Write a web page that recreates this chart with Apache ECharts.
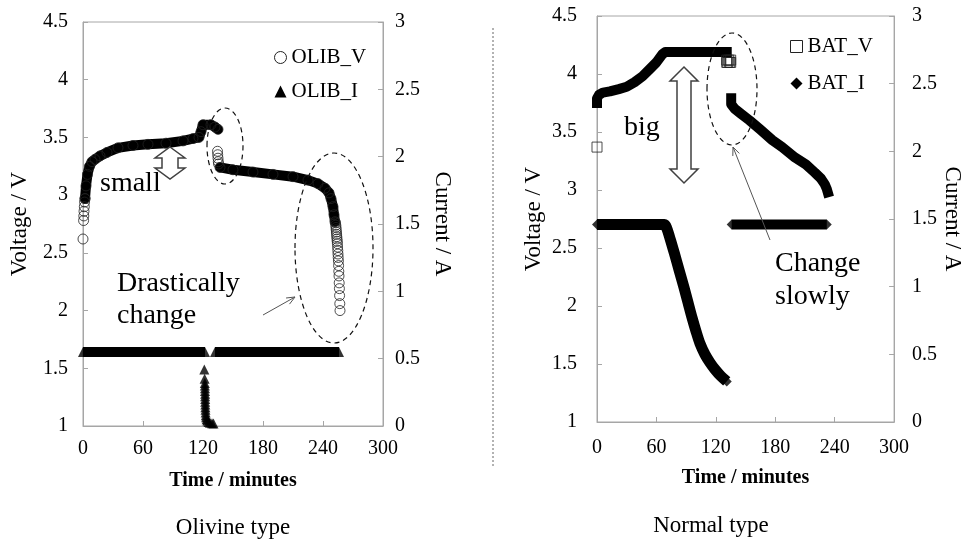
<!DOCTYPE html>
<html>
<head>
<meta charset="utf-8">
<script src="https://cdn.jsdelivr.net/npm/echarts/dist/echarts.min.js"></script>
<style>
  html, body { margin: 0; padding: 0; background: #fff; }
  #chart { width: 965px; height: 544px; }
</style>
</head>
<body>
<div id="chart"></div>
<script>
// ---- axis ranges (min, max, step) ----
const timeAxis = [0, 300, 60];      // minutes
const voltAxis = [1, 4.5, 0.5];     // V
const currAxis = [0, 3, 0.5];       // A

// ---- Olivine cell (OLIB) ----
// loose voltage points at the very start of charge
const olibVStart = [[0, 2.62], [0.6, 2.78], [0.8, 2.82], [1, 2.86], [1.3, 2.9], [1.6, 2.94], [2, 2.97]];
// dense voltage trace during charge (CC then CV)
const olibVCharge = [[2, 2.97], [3, 3.08], [4.5, 3.18], [6.5, 3.25], [9, 3.29], [12, 3.31], [17, 3.34],
  [24, 3.37], [35, 3.41], [50, 3.43], [65, 3.44], [83, 3.45], [100, 3.47], [110, 3.49], [116, 3.5],
  [118, 3.55], [120, 3.61], [128, 3.61], [132, 3.59], [135, 3.57]];
// loose voltage points right after the charge ends
const olibVRest = [[134.5, 3.38], [134.7, 3.35], [135, 3.32], [135.3, 3.29], [135.6, 3.27]];
// dense voltage trace during discharge
const olibVDischarge = [[137, 3.24], [150, 3.22], [170, 3.2], [190, 3.18], [210, 3.16], [225, 3.13],
  [235, 3.1], [242, 3.06], [246, 3.02], [248, 2.97], [250, 2.9], [251, 2.83], [252, 2.77]];
// loose voltage points at the end of discharge
const olibVDrop = [[252.5, 2.76], [252.8, 2.74], [253, 2.72], [253.2, 2.7], [253.4, 2.68], [253.6, 2.66],
  [253.8, 2.64], [254, 2.62], [254.2, 2.6], [254.4, 2.58], [254.6, 2.55], [254.8, 2.52], [255, 2.49],
  [255.2, 2.46], [255.4, 2.43], [255.6, 2.39], [255.8, 2.34], [256, 2.3], [256.2, 2.24], [256.4, 2.19],
  [256.6, 2.13], [256.8, 2.06], [257, 2.0]];
// current: constant charge, CV tail, constant discharge
const olibICharge = [[0, 0.55], [122, 0.55]];
const olibITail = [[121.3, 0.42], [121.6, 0.35], [121.8, 0.32], [121.9, 0.3], [122, 0.28], [122, 0.26],
  [122.1, 0.24], [122.1, 0.22], [122.2, 0.2], [122.2, 0.18], [122.3, 0.16], [122.4, 0.14], [122.5, 0.12],
  [122.6, 0.1], [122.8, 0.08], [123.1, 0.065], [123.6, 0.05], [124.4, 0.04], [125.5, 0.03], [127, 0.025],
  [129, 0.02], [130.5, 0.018]];
const olibIDischarge = [[132, 0.55], [256, 0.55]];

// ---- Normal cell (BAT) ----
const batVStart = [[0, 3.37]];
const batVCharge = [[0, 3.75], [0, 3.79], [2, 3.82], [6, 3.84], [13, 3.85], [22, 3.87], [30, 3.89],
  [38, 3.93], [46, 3.98], [53, 4.04], [60, 4.1], [66, 4.17], [69, 4.19], [131, 4.19]];
const batVRest = [[131, 4.1], [131, 4.12], [132, 4.1], [133, 4.12], [134, 4.1], [135, 4.12], [135, 4.1]];
const batVDischarge = [[135.5, 3.79], [135.5, 3.74], [139, 3.7], [145, 3.66], [154, 3.6], [165, 3.52],
  [177, 3.43], [187, 3.37], [200, 3.28], [211, 3.22], [220, 3.15], [226, 3.1], [230, 3.05], [232, 3.01],
  [233, 2.98]];
const batICharge = [[0, 1.46], [68, 1.46], [70.5, 1.43], [74, 1.35], [78, 1.25], [83, 1.12], [88, 0.99],
  [92, 0.88], [96, 0.77], [100, 0.67], [104, 0.58], [109, 0.5], [114, 0.44], [119, 0.39], [125, 0.34],
  [131, 0.3]];
const batIEnds = [[0, 1.46], [68, 1.46], [131, 0.3], [136, 1.46], [232, 1.46]];
const batIDischarge = [[136, 1.46], [232, 1.46]];

// ---- styling ----
const FONT = '"Liberation Serif", "Times New Roman", serif';
const AXIS_GRAY = '#a6a6a6';
const INK = '#000';

function xAxisFor(gridIndex, labelMargin, nameGap) {
  return {
    gridIndex, type: 'value', min: timeAxis[0], max: timeAxis[1], interval: timeAxis[2],
    name: 'Time / minutes', nameLocation: 'middle', nameGap,
    nameTextStyle: { fontFamily: FONT, fontSize: 20, fontWeight: 'bold', color: INK },
    axisLine: { onZero: false, lineStyle: { color: AXIS_GRAY } },
    axisTick: { inside: true, length: 5, lineStyle: { color: AXIS_GRAY } },
    axisLabel: { margin: labelMargin, fontFamily: FONT, fontSize: 20, color: INK },
    splitLine: { show: false }
  };
}
function yAxisFor(gridIndex, range, position, name, rotate, nameGap, labelMargin) {
  return {
    gridIndex, type: 'value', position, min: range[0], max: range[1], interval: range[2],
    name, nameLocation: 'middle', nameRotate: rotate, nameGap,
    nameTextStyle: { fontFamily: FONT, fontSize: 23, color: INK },
    axisLine: { show: true, onZero: false, lineStyle: { color: AXIS_GRAY } },
    axisTick: { show: true, inside: true, length: 5, lineStyle: { color: AXIS_GRAY } },
    axisLabel: { margin: labelMargin, fontFamily: FONT, fontSize: 20, color: INK },
    splitLine: { show: false }
  };
}
function band(name, data, xi, yi, cap, smooth, width) {
  return {
    type: 'line', name, data, xAxisIndex: xi, yAxisIndex: yi, symbol: 'none', silent: true,
    smooth: smooth || false,
    lineStyle: { width: width || 10, color: INK, cap, join: 'round' }, z: 2
  };
}
function marks(name, data, xi, yi, symbol, hollow, size) {
  return {
    type: 'scatter', name, data, xAxisIndex: xi, yAxisIndex: yi, symbol, symbolSize: size || 10,
    silent: true,
    itemStyle: hollow
      ? { color: 'rgba(255,255,255,0)', borderColor: '#222', borderWidth: 1 }
      : { color: INK },
    z: 3
  };
}

// ---- annotation helpers (pixel geometry of the callouts) ----
function doubleArrow(cx, y1, y2, headH, headHW, shaftHW) {
  return {
    type: 'polygon', z: 20,
    shape: { points: [[cx, y1], [cx + headHW, y1 + headH], [cx + shaftHW, y1 + headH], [cx + shaftHW, y2 - headH],
      [cx + headHW, y2 - headH], [cx, y2], [cx - headHW, y2 - headH], [cx - shaftHW, y2 - headH],
      [cx - shaftHW, y1 + headH], [cx - headHW, y1 + headH]] },
    style: { fill: '#fff', stroke: '#404040', lineWidth: 1.5 }
  };
}
function pointer(x1, y1, x2, y2) {
  const a = Math.atan2(y1 - y2, x1 - x2), L = 9, s = 0.4;
  return [
    { type: 'line', z: 20, shape: { x1, y1, x2, y2 }, style: { stroke: '#555', lineWidth: 1 } },
    { type: 'polyline', z: 20,
      shape: { points: [[x2 + L * Math.cos(a + s), y2 + L * Math.sin(a + s)], [x2, y2],
        [x2 + L * Math.cos(a - s), y2 + L * Math.sin(a - s)]] },
      style: { stroke: '#555', lineWidth: 1, fill: 'none' } }
  ];
}
function dashedEllipse(cx, cy, rx, ry) {
  return { type: 'ellipse', z: 20, shape: { cx, cy, rx, ry },
    style: { fill: 'none', stroke: '#111', lineWidth: 1.2, lineDash: [5, 4] } };
}
function note(text, x, y, size) {
  return { type: 'text', z: 20, x, y,
    style: { text, font: (size || 28) + 'px ' + FONT, fill: INK, verticalAlign: 'middle', align: 'left' } };
}
function caption(text, x, y) {
  return { type: 'text', z: 20, x, y,
    style: { text, font: '23px ' + FONT, fill: INK, verticalAlign: 'middle', align: 'center' } };
}

const chart = echarts.init(document.getElementById('chart'), null, { renderer: 'canvas' });

const option = {
  animation: false,
  backgroundColor: '#fff',
  grid: [
    { left: 83, top: 22, width: 300, height: 404, show: true, borderColor: AXIS_GRAY, borderWidth: 1 },
    { left: 597, top: 16, width: 298, height: 406, show: true, borderColor: AXIS_GRAY, borderWidth: 1 }
  ],
  xAxis: [xAxisFor(0, 13, 45), xAxisFor(1, 16, 46)],
  yAxis: [
    yAxisFor(0, voltAxis, 'left', 'Voltage / V', 90, 52, 15),
    yAxisFor(0, currAxis, 'right', 'Current / A', -90, 48, 12),
    yAxisFor(1, voltAxis, 'left', 'Voltage / V', 90, 52, 20),
    yAxisFor(1, currAxis, 'right', 'Current / A', -90, 46, 18)
  ],
  legend: [
    { orient: 'vertical', left: 274, top: 47, itemWidth: 12, itemHeight: 12, itemGap: 13, padding: 0,
      selectedMode: false, textStyle: { fontFamily: FONT, fontSize: 21, color: INK },
      data: [
        { name: 'OLIB_V', icon: 'circle', itemStyle: { color: '#fff', borderColor: '#222', borderWidth: 1 } },
        { name: 'OLIB_I', icon: 'triangle', itemStyle: { color: INK } }
      ] },
    { orient: 'vertical', left: 790, top: 36, itemWidth: 12, itemHeight: 12, itemGap: 16, padding: 0,
      selectedMode: false, textStyle: { fontFamily: FONT, fontSize: 21, color: INK },
      data: [
        { name: 'BAT_V', icon: 'rect', itemStyle: { color: '#fff', borderColor: '#222', borderWidth: 1 } },
        { name: 'BAT_I', icon: 'diamond', itemStyle: { color: INK } }
      ] }
  ],
  series: [
    // Olivine voltage (left axis)
    band('OLIB_V', olibVCharge, 0, 0, 'round'),
    band('OLIB_V', olibVDischarge, 0, 0, 'round'),
    marks('OLIB_V', olibVStart.concat(olibVCharge, olibVRest, olibVDischarge, olibVDrop), 0, 0, 'circle', true),
    // Olivine current (right axis)
    band('OLIB_I', olibICharge, 0, 1, 'butt'),
    band('OLIB_I', olibIDischarge, 0, 1, 'butt'),
    marks('OLIB_I', olibICharge.concat(olibITail, olibIDischarge), 0, 1, 'triangle', false, [10, 10]),
    // Normal voltage
    band('BAT_V', batVCharge, 1, 2, 'square'),
    band('BAT_V', batVDischarge, 1, 2, 'square'),
    marks('BAT_V', batVStart.concat(batVRest), 1, 2, 'rect', true),
    // Normal current
    band('BAT_I', batICharge, 1, 3, 'butt', 0.3, 11),
    band('BAT_I', batIDischarge, 1, 3, 'butt'),
    marks('BAT_I', batIEnds, 1, 3, 'diamond', false)
  ],
  graphic: [
    { type: 'line', z: 5, shape: { x1: 493, y1: 28, x2: 493, y2: 468 },
      style: { stroke: '#666', lineWidth: 1, lineDash: [2, 2] } },
    caption('Olivine type', 233, 528),
    caption('Normal type', 711, 526),
    // Olivine callouts
    note('small', 100, 184),
    doubleArrow(170, 147, 179, 11, 15, 8),
    dashedEllipse(225, 146, 18, 38),
    dashedEllipse(334, 248, 39, 95),
    note('Drastically', 117, 284),
    note('change', 117, 316),
    ...pointer(263, 315, 295, 297),
    // Normal callouts
    note('big', 624, 128),
    doubleArrow(684, 67, 183, 14, 14, 7),
    dashedEllipse(732, 89, 25, 56),
    note('Change', 775, 264),
    note('slowly', 775, 297),
    ...pointer(770, 240, 733, 147)
  ]
};

chart.setOption(option);
</script>
</body>
</html>
